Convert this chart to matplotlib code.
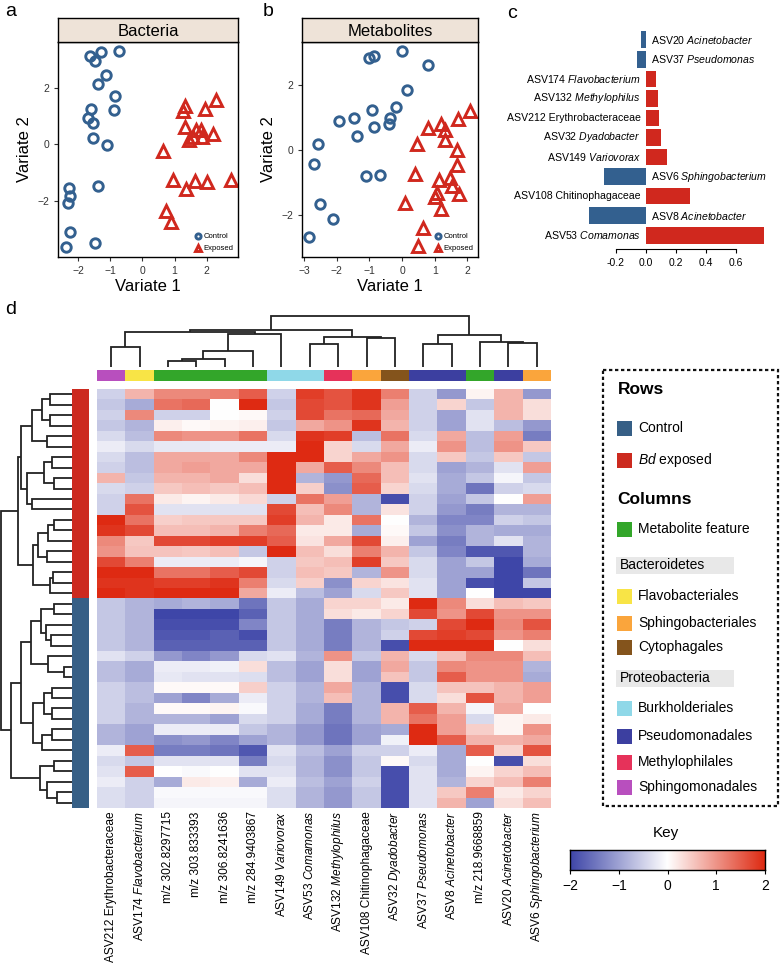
import numpy as np
import matplotlib
matplotlib.use('Agg')
import matplotlib.pyplot as plt
from matplotlib.colors import LinearSegmentedColormap, to_rgb
from matplotlib.patches import Rectangle

plt.rcParams['font.family'] = ['Liberation Sans', 'DejaVu Sans']
plt.rcParams['mathtext.fontset'] = 'custom'
plt.rcParams['mathtext.rm'] = 'Liberation Sans'
plt.rcParams['mathtext.it'] = 'Liberation Sans:italic'
plt.rcParams['mathtext.bf'] = 'Liberation Sans:bold'

# ---------------- data ----------------
bac_ctrl_x = [-1.62, -1.30, -1.46, -0.72, -1.12, -1.38, -0.86, -1.59, -1.69, -1.53,
              -0.89, -1.53, -1.09, -2.28, -2.26, -2.31, -1.38, -2.26, -2.38, -1.48]
bac_ctrl_y = [3.11, 3.24, 2.93, 3.28, 2.44, 2.11, 1.71, 1.25, 0.94, 0.76,
              1.20, 0.21, -0.04, -1.53, -1.82, -2.06, -1.46, -3.09, -3.62, -3.48]
bac_exp_x = [1.32, 1.26, 1.94, 2.28, 1.32, 1.66, 1.83, 1.44, 1.58, 1.85,
             2.20, 0.64, 0.95, 1.63, 2.01, 2.74, 1.37, 0.73, 0.90]
bac_exp_y = [1.34, 1.18, 1.26, 1.55, 0.61, 0.52, 0.52, 0.14, 0.26, 0.26,
             0.35, -0.24, -1.27, -1.31, -1.33, -1.25, -1.59, -2.35, -2.76]

met_ctrl_x = [-1.00, -0.86, 0.00, 0.80, 0.14, -0.91, -0.18, -0.37, -0.40, -0.86,
              -1.47, -1.95, -1.38, -2.58, -2.71, -1.11, -0.68, -2.53, -2.13, -2.84]
met_ctrl_y = [2.82, 2.87, 3.02, 2.61, 1.85, 1.23, 1.32, 0.99, 0.79, 0.70,
              0.99, 0.89, 0.42, 0.17, -0.42, -0.81, -0.78, -1.67, -2.11, -2.67]
met_exp_x = [1.21, 0.81, 1.72, 1.32, 1.32, 2.08, 0.47, 1.70, 1.70, 0.40,
             1.13, 1.47, 1.54, 1.06, 1.01, 1.74, 1.19, 0.09, 0.63, 0.50]
met_exp_y = [0.81, 0.67, 0.94, 0.60, 0.32, 1.18, 0.19, -0.01, -0.47, -0.74,
             -0.91, -0.86, -1.09, -1.32, -1.44, -1.34, -1.80, -1.62, -2.39, -2.95]

loading_labels = [r"ASV20 $\mathit{Acinetobacter}$", r"ASV37 $\mathit{Pseudomonas}$",
                  r"ASV174 $\mathit{Flavobacterium}$", r"ASV132 $\mathit{Methylophilus}$",
                  "ASV212 Erythrobacteraceae", r"ASV32 $\mathit{Dyadobacter}$",
                  r"ASV149 $\mathit{Variovorax}$", r"ASV6 $\mathit{Sphingobacterium}$",
                  "ASV108 Chitinophagaceae", r"ASV8 $\mathit{Acinetobacter}$",
                  r"ASV53 $\mathit{Comamonas}$"]
loading_values = [-0.033, -0.056, 0.067, 0.080, 0.091, 0.104, 0.142, -0.278, 0.293, -0.378, 0.789]

col_labels = ["ASV212 Erythrobacteraceae", r"ASV174 $\mathit{Flavobacterium}$",
              "m/z 302.8297715", "m/z 303.833393", "m/z 306.8241636", "m/z 284.9403867",
              r"ASV149 $\mathit{Variovorax}$", r"ASV53 $\mathit{Comamonas}$",
              r"ASV132 $\mathit{Methylophilus}$", "ASV108 Chitinophagaceae",
              r"ASV32 $\mathit{Dyadobacter}$", r"ASV37 $\mathit{Pseudomonas}$",
              r"ASV8 $\mathit{Acinetobacter}$", "m/z 218.9668859",
              r"ASV20 $\mathit{Acinetobacter}$", r"ASV6 $\mathit{Sphingobacterium}$"]
col_groups = ["Sphingomonadales", "Flavobacteriales", "Metabolite feature", "Metabolite feature",
              "Metabolite feature", "Metabolite feature", "Burkholderiales", "Burkholderiales",
              "Methylophilales", "Sphingobacteriales", "Cytophagales", "Pseudomonadales",
              "Pseudomonadales", "Metabolite feature", "Pseudomonadales", "Sphingobacteriales"]
row_groups = ["Bd exposed"] * 20 + ["Control"] * 20

heat = np.array([
    [-0.5, 0.7, 1.1, 1.1, 1.2, 1.5, -0.5, 1.8, 1.6, 1.9, 1.2, -0.5, -1.1, 0.1, 0.7, -1.1],
    [-0.6, -0.9, 1.3, 1.4, 0.0, 2.0, -0.6, 1.7, 1.6, 1.9, 0.9, -0.5, 0.4, -0.6, 0.7, 0.3],
    [-0.5, 1.1, -0.5, -0.5, 0.0, 0.05, -0.5, 1.7, 1.3, 1.4, 0.8, -0.5, -1.0, -0.3, 0.7, 0.3],
    [-0.6, -0.8, 0.15, 0.05, 0.1, 0.15, -0.6, 0.8, 1.0, 1.9, 0.7, -0.5, -1.0, -0.3, -0.7, -1.1],
    [-0.4, -0.7, 1.1, 1.0, 1.0, 1.3, -0.4, 1.9, 1.8, -0.7, 1.3, -0.4, 0.8, -0.7, 0.9, -1.4],
    [-0.2, -0.4, -0.25, -0.25, -0.2, -0.2, -0.2, 2.0, 0.4, -0.4, 0.8, -0.2, 1.0, -0.7, 1.0, 0.5],
    [-0.4, -0.7, 0.8, 0.8, 0.8, 1.1, 2.0, 2.0, 0.4, 0.8, 1.0, -0.4, 0.5, -0.6, 0.5, -0.6],
    [-0.5, -0.7, 0.8, 0.9, 0.8, 0.8, 2.0, 0.8, 1.5, 1.1, 0.6, -0.4, -1.0, -0.8, -0.3, 0.9],
    [0.7, -0.6, 0.7, 0.7, 0.8, 0.3, 2.0, -0.8, -1.1, 1.4, 0.6, -0.3, -0.9, -0.6, -0.1, -0.6],
    [-0.4, -0.5, 0.5, 0.6, 0.5, 0.6, 2.0, 0.45, -1.2, 1.5, 0.4, -0.4, -0.9, -1.5, -0.5, -0.4],
    [-0.5, 1.3, 0.2, 0.1, 0.2, 0.35, -0.5, 1.3, 0.9, -0.8, -1.9, -0.5, -1.0, -0.6, 0.0, 0.9],
    [-0.5, 1.6, -0.3, -0.3, -0.3, -0.3, 1.7, 0.6, 1.1, -0.8, 0.25, -0.5, -1.1, -1.4, -0.8, -0.8],
    [2.0, 1.3, 0.45, 0.5, 0.5, 0.5, 1.8, 0.7, 0.2, 1.3, 0.0, -0.8, -1.3, -1.3, -0.5, -0.6],
    [1.9, 1.7, 0.6, 0.6, 0.7, 1.2, 1.4, 0.2, 0.2, -0.9, 0.05, -0.6, -1.2, -0.8, -0.9, -0.9],
    [1.1, 0.5, 1.7, 1.7, 1.8, 1.8, 1.5, 0.25, 0.8, 1.7, 0.15, -1.0, -1.4, -0.8, -0.3, -0.8],
    [1.0, 0.55, 0.55, 0.5, 0.6, -0.6, 2.0, 0.6, 0.3, 1.2, 0.7, -0.6, -1.3, -1.8, -1.8, -0.8],
    [1.7, 1.2, -0.2, -0.2, -0.2, -0.1, -0.5, 0.5, 0.6, 1.8, 0.5, -0.4, -1.0, -0.6, -2.0, -0.9],
    [2.0, 2.0, 1.3, 1.3, 1.5, 1.7, -0.5, 0.6, 0.5, -0.8, 1.0, -0.4, -1.0, -1.0, -2.0, -1.5],
    [1.9, 1.9, 1.8, 1.8, 1.9, 1.2, -0.4, 0.45, -1.2, 0.4, 0.25, -0.3, -1.0, -1.9, -2.0, -0.6],
    [2.0, 1.9, 2.0, 2.0, 2.0, 0.8, -0.2, -0.7, -1.0, -0.4, 0.5, -0.3, -1.0, 0.0, -2.0, -2.0],
    [-0.6, -0.8, -0.9, -0.8, -0.9, -1.5, -0.6, -0.9, 0.4, 0.4, 0.2, 2.0, 1.1, 0.3, 0.6, 0.5],
    [-0.6, -0.8, -2.0, -2.0, -2.0, -1.7, -0.6, -0.9, 0.3, 0.2, 0.4, 1.7, 1.0, 1.7, 1.0, 1.0],
    [-0.6, -0.8, -1.9, -1.9, -1.9, -1.3, -0.6, -0.9, -1.4, -0.8, -0.6, -0.5, 1.7, 2.0, 1.1, 1.6],
    [-0.6, -0.8, -1.8, -1.8, -1.7, -1.9, -0.6, -0.9, -1.4, -0.8, -0.5, 1.7, 1.8, 1.7, 1.0, 1.2],
    [-0.6, -0.8, -1.7, -1.7, -1.7, -1.7, -0.6, -0.9, -1.4, -0.8, -1.9, 2.0, 2.0, 2.0, 0.0, 0.3],
    [-0.3, -0.5, -1.1, -1.3, -1.1, -0.4, -0.3, -0.8, 1.0, -0.6, 0.7, -0.4, 0.6, 1.1, 1.1, 0.6],
    [-0.7, -0.9, -0.2, -0.2, -0.15, 0.3, -0.7, -1.0, 0.3, -1.0, 0.8, -0.6, 1.1, 1.0, 1.0, -0.8],
    [-0.7, -0.9, -0.25, -0.3, -0.3, -0.35, -0.7, -1.0, 0.3, -1.0, 0.55, -0.6, 1.5, 1.0, 1.0, -0.9],
    [-0.5, -0.7, 0.05, 0.05, 0.05, 0.45, -0.5, -0.8, 0.8, -0.8, -1.9, -0.4, 0.55, 0.55, 0.7, 0.9],
    [-0.5, -0.7, -1.0, -1.3, -0.9, -0.2, -0.5, -0.8, 0.6, -0.8, -1.9, -0.4, 0.3, 1.6, 0.7, 0.9],
    [-0.5, -0.8, 0.05, 0.05, 0.1, -0.05, -0.5, -0.9, -1.4, -0.8, 0.7, 1.5, 0.7, -0.1, 0.8, 0.0],
    [-0.5, -0.8, -0.8, -0.8, -1.0, -0.4, -0.5, -0.9, -1.4, -0.8, 0.7, 1.3, 0.9, -0.4, 0.1, 0.2],
    [-0.8, -1.0, -0.2, -0.2, -0.2, -0.6, -0.8, -1.1, -1.5, -1.0, -0.9, 2.0, 0.9, 0.45, 0.1, 1.0],
    [-0.8, -1.0, -1.2, -1.1, -1.3, -1.0, -0.8, -1.1, -1.5, -1.0, -0.15, 2.0, 1.5, 0.7, 0.7, 0.8],
    [-0.2, 1.5, -1.4, -1.4, -1.5, -1.8, -0.3, -0.7, -1.0, -0.5, -0.5, -0.2, -0.9, 1.5, 0.4, 1.6],
    [-0.4, -0.6, -0.3, -0.3, -0.3, -1.4, -0.4, -0.8, -1.2, -0.6, 0.05, -0.4, -0.9, 0.0, -1.9, 0.3],
    [-0.3, 1.5, 0.0, -0.05, 0.0, -0.3, -0.3, -0.8, -1.2, -0.6, -1.9, -0.3, -0.9, 0.1, 0.4, 0.6],
    [-0.2, -0.5, -0.9, 0.2, 0.15, -0.9, -0.2, -0.7, -1.0, -0.5, -1.9, -0.3, -0.8, 0.4, 0.6, 1.2],
    [-0.35, -0.5, -0.05, -0.05, -0.05, -0.05, -0.35, -0.8, -1.1, -0.6, -1.9, -0.3, 0.5, 1.2, 0.2, 0.4],
    [-0.35, -0.5, -0.1, -0.1, -0.1, -0.1, -0.35, -0.8, -1.1, -0.6, -1.9, -0.3, 0.7, -1.0, 0.3, 0.6],
])

# dendrogram merges: (name, left, right, height)
col_merges = [
    ("c0", 0, 1, 20), ("c1", 2, 3, 6), ("c2", "c1", 4, 8), ("c3", "c2", 5, 16),
    ("c4", "c3", 6, 32), ("c5", "c0", "c4", 34), ("c6", 7, 8, 23), ("c7", 9, 10, 28),
    ("c8", "c6", "c7", 29), ("c9", "c5", "c8", 36), ("c10", 11, 12, 23), ("c11", 14, 15, 24),
    ("c12", 13, "c11", 25), ("c13", "c10", "c12", 31), ("c14", "c9", "c13", 50),
]
row_merges = [
    ("r0", 0, 1, 22), ("r1", 2, 3, 22), ("r2", "r0", "r1", 30), ("r3", 4, 5, 25),
    ("r4", "r2", "r3", 39), ("r5", 6, 7, 20), ("r6", 8, 9, 18), ("r7", "r5", "r6", 28),
    ("r8", 10, 11, 39), ("r9", "r7", "r8", 44), ("r10", "r4", "r9", 50),
    ("r11", 12, 13, 18), ("r12", "r11", 14, 24), ("r13", 15, 16, 25), ("r14", "r12", "r13", 34),
    ("r15", 17, 18, 19), ("r16", "r15", 19, 22), ("r17", "r14", "r16", 38),
    ("r18", "r10", "r17", 53),
    ("r19", 20, 21, 18), ("r20", 23, 24, 21), ("r21", 22, "r20", 26), ("r22", "r19", "r21", 31),
    ("r23", 26, 27, 8), ("r24", 25, "r23", 24), ("r25", "r22", "r24", 40),
    ("r26", 28, 29, 20), ("r27", 30, 31, 20), ("r28", "r26", "r27", 28),
    ("r29", 32, 33, 20), ("r30", "r29", 34, 30), ("r31", "r28", "r30", 38),
    ("r32", "r25", "r31", 50),
    ("r33", 35, 36, 18), ("r34", 38, 39, 15), ("r35", 37, "r34", 25), ("r36", "r33", "r35", 32),
    ("r37", "r32", "r36", 60),
    ("r38", "r18", "r37", 70),
]

# ---------------- styles ----------------
BLUE = "#33608F"
RED = "#D0281E"
ROW_BLUE = "#365F86"
ROW_RED = "#CC2A1F"
group_colors = {
    "Control": ROW_BLUE, "Bd exposed": ROW_RED,
    "Metabolite feature": "#33A62A", "Flavobacteriales": "#F8E446",
    "Sphingobacteriales": "#FAA53C", "Cytophagales": "#84541C",
    "Burkholderiales": "#8FD8E8", "Pseudomonadales": "#3C3FA0",
    "Methylophilales": "#E6325A", "Sphingomonadales": "#B84FBE",
}
cmap = LinearSegmentedColormap.from_list("bwr2", ["#3E46A8", "#FFFFFF", "#DE2A12"])

W, H = 780, 967
fig = plt.figure(figsize=(W / 100, H / 100), dpi=100)


def ax_px(x0, y0, x1, y1, **kw):
    return fig.add_axes([x0 / W, 1 - y1 / H, (x1 - x0) / W, (y1 - y0) / H], **kw)


def scatter_panel(box, strip_title, cx, cy, ex, ey, xlim, ylim, xticks):
    x0, y0, x1, y1 = box
    ax = ax_px(x0, y0, x1, y1)
    ax.plot(cx, cy, 'o', ms=6.8, mfc='none', mec=BLUE, mew=2.1, ls='none', label='Control')
    ax.plot(ex, ey, '^', ms=8.2, mfc='none', mec=RED, mew=2.1, ls='none', label='Exposed')
    ax.set_xlim(*xlim)
    ax.set_ylim(*ylim)
    ax.set_xticks(xticks)
    ax.set_yticks([-2, 0, 2])
    ax.tick_params(labelsize=7.5, length=3, width=0.8, direction='out', colors='#333333')
    for s in ax.spines.values():
        s.set_linewidth(1.0)
    ax.set_xlabel("Variate 1", fontsize=12, labelpad=2)
    ax.set_ylabel("Variate 2", fontsize=12, labelpad=4)
    ax.legend(loc='lower right', fontsize=5.5, frameon=False, handletextpad=0.1,
              borderaxespad=0.2, labelspacing=0.6, markerscale=0.55, handlelength=1.2)
    st = ax_px(x0, y0 - 24, x1, y0)
    st.set_facecolor("#EEE3D8")
    st.set_xticks([])
    st.set_yticks([])
    for s in st.spines.values():
        s.set_linewidth(1.0)
    st.text(0.5, 0.45, strip_title, ha='center', va='center', fontsize=12, transform=st.transAxes)
    return ax


scatter_panel((58, 42, 238, 257), "Bacteria", bac_ctrl_x, bac_ctrl_y, bac_exp_x, bac_exp_y,
              (-2.62, 2.97), (-3.98, 3.61), [-2, -1, 0, 1, 2])
scatter_panel((302, 42, 478, 257), "Metabolites", met_ctrl_x, met_ctrl_y, met_exp_x, met_exp_y,
              (-3.07, 2.33), (-3.28, 3.31), [-3, -2, -1, 0, 1, 2])

# ---------------- panel c ----------------
axc = ax_px(555, 30, 778, 245)
ypos = np.arange(len(loading_values))
bar_cols = [RED if v > 0 else BLUE for v in loading_values]
axc.barh(ypos, loading_values, height=0.85, color=bar_cols)
axc.set_xlim(-0.605, 0.882)
axc.set_ylim(len(loading_values) - 0.5, -0.5)
for s in ['top', 'right', 'left']:
    axc.spines[s].set_visible(False)
axc.spines['bottom'].set_position(('outward', 3))
axc.spines['bottom'].set_bounds(-0.2, 0.6)
axc.spines['bottom'].set_linewidth(0.8)
axc.set_xticks([-0.2, 0.0, 0.2, 0.4, 0.6])
axc.set_xticklabels(['-0.2', '0.0', '0.2', '0.4', '0.6'])
axc.tick_params(axis='x', labelsize=7.5, length=3, width=0.8)
axc.set_yticks([])
for yi, (lab, v) in enumerate(zip(loading_labels, loading_values)):
    if v > 0:
        axc.text(-0.033, yi, lab, ha='right', va='center', fontsize=7.6)
    else:
        axc.text(0.035, yi, lab, ha='left', va='center', fontsize=7.6)

# ---------------- panel d heatmap ----------------
nr, nc = heat.shape
axh = ax_px(97, 389, 551, 808)
axh.imshow(heat, cmap=cmap, vmin=-2, vmax=2, aspect='auto', interpolation='nearest')
axh.set_xticks([])
axh.set_yticks([])
for s in axh.spines.values():
    s.set_visible(False)
for j, lab in enumerate(col_labels):
    axh.text(j, nr - 0.5 + 0.3, lab, rotation=90, ha='center', va='top', fontsize=8.6)

# column colour bar
axcc = ax_px(97, 370, 551, 381)
axcc.imshow(np.array([[to_rgb(group_colors[g]) for g in col_groups]]), aspect='auto')
axcc.axis('off')

# row colour bar
axrc = ax_px(72, 389, 89, 808)
axrc.imshow(np.array([[to_rgb(group_colors[g])] for g in row_groups]), aspect='auto')
axrc.axis('off')


def draw_dendro(ax, merges, orient):
    pos = {}

    def get(k):
        if isinstance(k, int):
            return float(k), 0.0
        return pos[k]

    for name, a, b, h in merges:
        pa, ha = get(a)
        pb, hb = get(b)
        if orient == 'top':
            ax.plot([pa, pa, pb, pb], [ha, h, h, hb], color='#222222', lw=1.3,
                    solid_joinstyle='miter', solid_capstyle='butt')
        else:
            ax.plot([ha, h, h, hb], [pa, pa, pb, pb], color='#222222', lw=1.3,
                    solid_joinstyle='miter', solid_capstyle='butt')
        pos[name] = ((pa + pb) / 2, h)


axcd = ax_px(97, 315, 551, 367)
draw_dendro(axcd, col_merges, 'top')
axcd.set_xlim(-0.5, nc - 0.5)
axcd.set_ylim(0, 51)
axcd.axis('off')

axrd = ax_px(0, 389, 72, 808)
draw_dendro(axrd, row_merges, 'left')
axrd.set_ylim(nr - 0.5, -0.5)
axrd.set_xlim(71, 0)
axrd.axis('off')

# ---------------- legend box & key ----------------
ov = ax_px(0, 0, W, H)
ov.set_xlim(0, W)
ov.set_ylim(H, 0)
ov.axis('off')
ov.patch.set_alpha(0)
ov.add_patch(Rectangle((603, 370), 175, 436, fill=False, lw=1.6, ls=(0, (1.5, 1.2)), ec='#111111'))

ov.text(618, 389, "Rows", fontsize=12.5, fontweight='bold', va='center', ha='left')
ov.text(617, 499, "Columns", fontsize=12.5, fontweight='bold', va='center', ha='left')

legend_rows = [("Control", 428), ("Bd exposed", 460), ("Metabolite feature", 529),
               ("Flavobacteriales", 596), ("Sphingobacteriales", 623), ("Cytophagales", 647),
               ("Burkholderiales", 708), ("Pseudomonadales", 736), ("Methylophilales", 762),
               ("Sphingomonadales", 787)]
for name, yc in legend_rows:
    ov.add_patch(Rectangle((617, yc - 7.5), 15, 15, color=group_colors[name], lw=0))
    txt = r"$\mathit{Bd}$ exposed" if name == "Bd exposed" else name
    ov.text(638, yc, txt, fontsize=10, va='center', ha='left')
for name, yc in [("Bacteroidetes", 565), ("Proteobacteria", 678)]:
    ov.add_patch(Rectangle((616, yc - 8.5), 118, 17, color='#E8E8E8', lw=0))
    ov.text(620, yc, name, fontsize=10, va='center', ha='left')

ov.text(666, 833, "Key", fontsize=11, ha='center', va='center')
axk = ax_px(570, 850, 765, 870)
axk.imshow(np.linspace(-2, 2, 256)[None, :], cmap=cmap, vmin=-2, vmax=2, aspect='auto',
           extent=[-2, 2, 0, 1])
axk.set_yticks([])
axk.set_xticks([-2, -1, 0, 1, 2])
axk.set_xticklabels(['\u22122', '\u22121', '0', '1', '2'])
axk.tick_params(axis='x', labelsize=10, length=3, width=0.8)
for s in axk.spines.values():
    s.set_linewidth(1.0)

# panel letters
for lab, x, y in [("a", 5, 12), ("b", 263, 12), ("c", 507, 14), ("d", 5, 310)]:
    ov.text(x, y, lab, fontsize=14, ha='left', va='center')

fig.savefig("out.png", dpi=100)
